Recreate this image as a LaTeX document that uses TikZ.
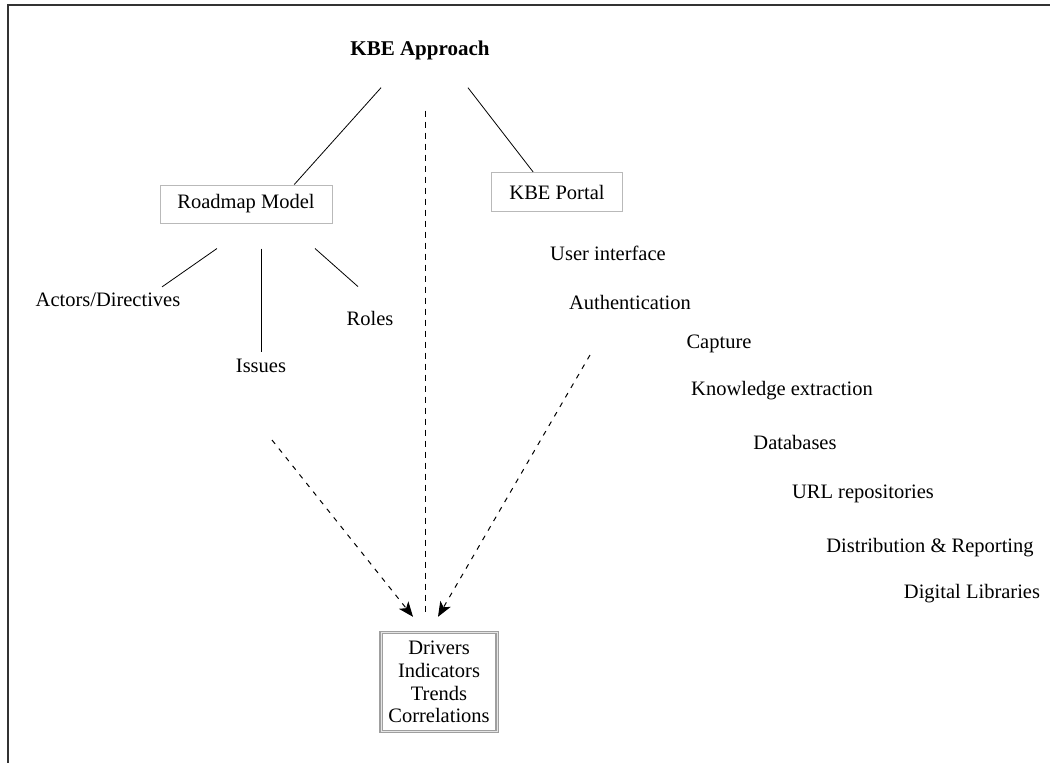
\documentclass[tikz,border=0pt]{standalone}
\usepackage{fontspec}
\setmainfont{Liberation Serif}
\usetikzlibrary{arrows.meta,calc}

\begin{document}
\begin{tikzpicture}[x=1pt,y=-1pt,
  every node/.style={font=\fontsize{20.5}{22.7}\selectfont, inner sep=0pt},
  plainbox/.style={draw=gray!55, line width=1pt, minimum width=172pt, minimum height=38pt},
  resultbox/.style={draw=gray!75, double=gray!20, double distance=1pt, line width=1.4pt,
                    minimum width=116pt, minimum height=99pt, align=center},
  link/.style={line width=0.8pt},
  flow/.style={line width=1pt, dash pattern=on 5pt off 6pt, -{Stealth[length=15pt,width=12pt,inset=4pt]}}]
  \useasboundingbox (0,0) rectangle (1050,763);
  \draw[gray!40!black, line width=2.2pt] (8,763) -- (8,5) -- (1050,5);

  \node[font=\fontsize{21}{25}\selectfont\bfseries] (approach) at (420,50) {KBE Approach};
  \node[plainbox] (roadmap) at (246,204) {Roadmap Model};
  \node[plainbox, minimum width=131pt, minimum height=39pt] (portal) at (557,192) {KBE Portal};

  \node (actors) at (108,300) {Actors/Directives};
  \node (issues) at (261,366) {Issues};
  \node (roles)  at (370,318) {Roles};

  \node (ui)      at (608,253) {User interface};
  \node (auth)    at (630,302) {Authentication};
  \node (capture) at (719,344) {Capture};
  \node (extract) at (782,391) {Knowledge extraction};
  \node (dbs)     at (795,442) {Databases};
  \node (urls)    at (863,494) {URL repositories};
  \node (distrib) at (930,548) {Distribution \& Reporting};
  \node (diglib)  at (972,594) {Digital Libraries};

  \node[resultbox] (result) at (439,682) {Drivers\\Indicators\\Trends\\Correlations};

  \draw[link] ($(approach.south)+(-39,28)$) -- (roadmap.22);
  \draw[link] ($(approach.south)+(48,28)$) -- (portal.140);

  \draw[link] ($(roadmap.south)+(-29,25)$) -- ($(actors.north)+(54,-6)$);
  \draw[link] ($(roadmap.south)+(15,25)$) -- ($(issues.north)+(0,-7)$);
  \draw[link] ($(roadmap.south)+(69,25)$) -- ($(roles.north)+(-12,-24)$);

  \draw[line width=1pt, dash pattern=on 6pt off 5pt] ($(approach.south)+(5,51)$) -- ($(result.north)+(-14,-17)$);
  \draw[flow] ($(issues.south)+(11,67)$) -- ($(result.north)+(-26,-15)$);
  \draw[flow] ($(portal.south)+(33,143)$) -- ($(result.north)+(-1,-15)$);
\end{tikzpicture}
\end{document}
